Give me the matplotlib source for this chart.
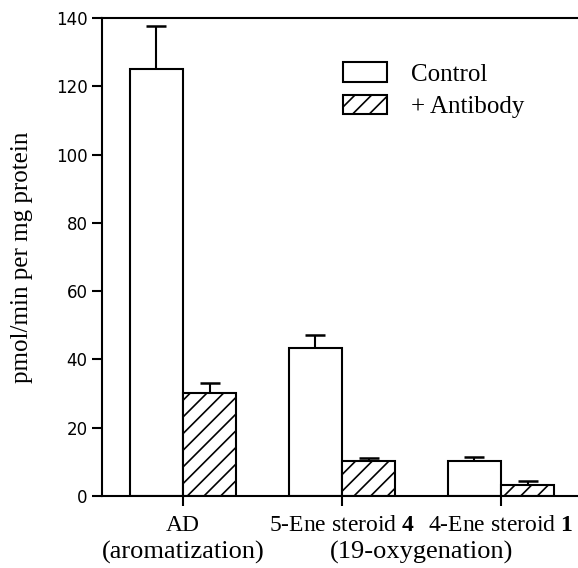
import matplotlib
matplotlib.use('Agg')
from matplotlib import pyplot as plt
import numpy as np

groups = ['AD', '5-Ene steroid $\\mathbf{4}$', '4-Ene steroid $\\mathbf{1}$']
control = [125.1, 43.3, 10.2]
control_err = [12.6, 3.9, 1.1]
antibody = [30.2, 10.2, 3.2]
antibody_err = [3.0, 1.0, 1.2]
series_names = ['Control', '+ Antibody']
y_ticks = [0, 20, 40, 60, 80, 100, 120, 140]
y_label = 'pmol/min per mg protein'
sub_labels = ['(aromatization)', '(19-oxygenation)']

plt.rcParams['mathtext.fontset'] = 'custom'
plt.rcParams['mathtext.rm'] = 'Liberation Serif'
plt.rcParams['mathtext.bf'] = 'Liberation Serif:bold'
plt.rcParams['hatch.linewidth'] = 1.2

fig = plt.figure(figsize=(5.78, 5.68), dpi=100)
ax = fig.add_axes([0.1765, 0.1268, 0.8235, 0.8415])

x = np.arange(len(groups))
w = 0.335
ax.bar(x - w / 2, control, w, color='white', edgecolor='black', linewidth=1.5,
       label=series_names[0], zorder=2)
ax.bar(x + w / 2, antibody, w, color='white', edgecolor='black', linewidth=1.5,
       hatch='//', label=series_names[1], zorder=2)
for xs, vals, errs in [(x - w / 2, control, control_err), (x + w / 2, antibody, antibody_err)]:
    eb = ax.errorbar(xs, vals, yerr=[np.zeros(3), errs], fmt='none',
                     ecolor='black', elinewidth=1.5, capsize=7, capthick=1.8, zorder=3)
    eb[1][0].set_visible(False)  # no cap at bar top

ax.set_xlim(-0.509, 2.484)
ax.set_ylim(0, 140)
ax.set_yticks(y_ticks)
ax.set_xticks(x)
ax.set_xticklabels(groups, fontfamily='Liberation Serif', fontsize=17)
ax.tick_params(axis='y', labelsize=12, length=7, width=1.5, direction='out')
ax.tick_params(axis='x', length=7, width=1.5, direction='out', pad=7)
ax.spines['right'].set_visible(False)
for s in ['left', 'bottom', 'top']:
    ax.spines[s].set_linewidth(1.5)

ax.set_ylabel(y_label, fontfamily='Liberation Serif', fontsize=18, labelpad=16)

tr = ax.get_xaxis_transform()
ax.text(0, -0.132, sub_labels[0], transform=tr, ha='center', va='baseline',
        fontfamily='Liberation Serif', fontsize=19)
ax.text(1.5, -0.132, sub_labels[1], transform=tr, ha='center', va='baseline',
        fontfamily='Liberation Serif', fontsize=19)

leg = ax.legend(loc='upper left', bbox_to_anchor=(0.507, 0.907), frameon=False,
                prop={'family': 'Liberation Serif', 'size': 18},
                handlelength=1.75, handleheight=0.8, handletextpad=0.95,
                labelspacing=0.38, borderpad=0, borderaxespad=0)

fig.savefig('out.png', dpi=100)
